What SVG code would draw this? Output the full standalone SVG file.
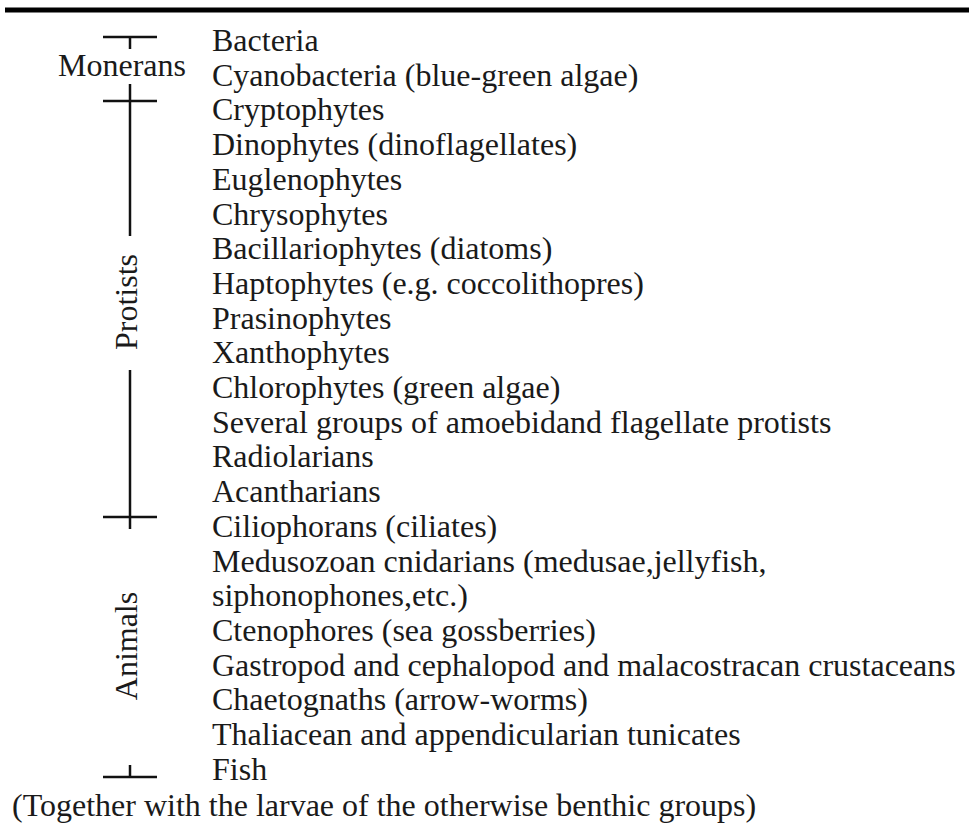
<svg xmlns="http://www.w3.org/2000/svg" width="969" height="829" viewBox="0 0 969 829">
<style>
text{font-family:"Liberation Serif","Times New Roman",serif;font-size:32px;fill:#1a1a1a}
.ln{stroke:#111;stroke-width:2.5;fill:none}
</style>
<rect width="969" height="829" fill="#fff"/>
<line x1="5" y1="10" x2="969" y2="10" stroke="#000" stroke-width="5"/>
<g id="brackets">
<line class="ln" x1="103" y1="37" x2="157" y2="37"/>
<line class="ln" x1="130" y1="37" x2="130" y2="49"/>
<line class="ln" x1="103" y1="101" x2="157" y2="101"/>
<line class="ln" x1="130" y1="84" x2="130" y2="236"/>
<line class="ln" x1="130" y1="370" x2="130" y2="529"/>
<line class="ln" x1="103" y1="517" x2="157" y2="517"/>
<line class="ln" x1="103" y1="777" x2="157" y2="777"/>
<line class="ln" x1="130" y1="765" x2="130" y2="777"/>
</g>
<g id="group-labels">
<text x="122" y="76" text-anchor="middle">Monerans</text>
<text transform="translate(137,302) rotate(-90)" text-anchor="middle">Protists</text>
<text transform="translate(137,646) rotate(-90)" text-anchor="middle">Animals</text>
</g>
<g id="items">
<text x="212" y="51">Bacteria</text>
<text x="212" y="85.7">Cyanobacteria (blue-green algae)</text>
<text x="212" y="120.4">Cryptophytes</text>
<text x="212" y="155.1">Dinophytes (dinoflagellates)</text>
<text x="212" y="189.8">Euglenophytes</text>
<text x="212" y="224.5">Chrysophytes</text>
<text x="212" y="259.2">Bacillariophytes (diatoms)</text>
<text x="212" y="293.9">Haptophytes (e.g. coccolithopres)</text>
<text x="212" y="328.6">Prasinophytes</text>
<text x="212" y="363.3">Xanthophytes</text>
<text x="212" y="398">Chlorophytes (green algae)</text>
<text x="212" y="432.7">Several groups of amoebidand flagellate protists</text>
<text x="212" y="467.4">Radiolarians</text>
<text x="212" y="502.1">Acantharians</text>
<text x="212" y="536.8">Ciliophorans (ciliates)</text>
<text x="212" y="571.5">Medusozoan cnidarians (medusae,jellyfish,</text>
<text x="212" y="606.2">siphonophones,etc.)</text>
<text x="212" y="640.9">Ctenophores (sea gossberries)</text>
<text x="212" y="675.6">Gastropod and cephalopod and malacostracan crustaceans</text>
<text x="212" y="710.3">Chaetognaths (arrow-worms)</text>
<text x="212" y="745">Thaliacean and appendicularian tunicates</text>
<text x="212" y="779.7">Fish</text>
</g>
<g id="footnote">
<text x="12" y="816">(Together with the larvae of the otherwise benthic groups)</text>
</g>
</svg>
